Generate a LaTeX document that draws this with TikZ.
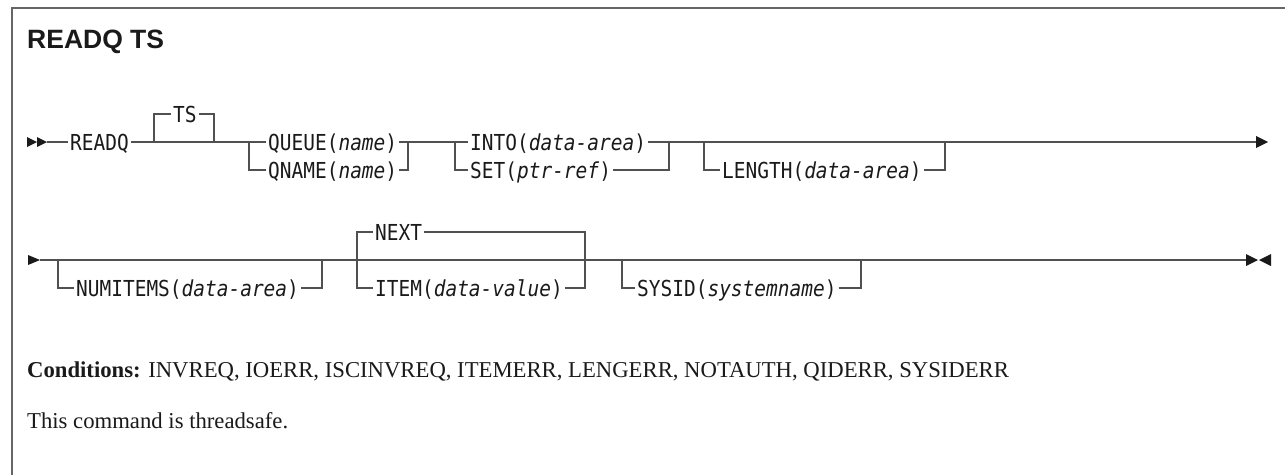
\documentclass[tikz,border=0pt]{standalone}
\usepackage{fontspec}
\newfontfamily\synfont[FakeStretch=0.885]{DejaVu Sans Mono}
\newfontfamily\titlefont{Liberation Sans}
\newfontfamily\bodyfont{Liberation Serif}
\definecolor{railc}{HTML}{505050}
\definecolor{inkc}{HTML}{1A1A1A}
\begin{document}
\begin{tikzpicture}[x=1pt,y={(0pt,-1pt)},
  rail/.style={draw=railc,line width=1.6pt},
  syn/.style={font=\synfont\fontsize{22}{26}\selectfont, inner xsep=2pt, inner ysep=0pt,
              text height=16pt, text depth=0pt, anchor=west, text=inkc},
  tipm/.style={fill=inkc, draw=none},
  body/.style={anchor=base west, inner sep=0pt, text=inkc, font=\bodyfont\fontsize{22.7}{27}\selectfont}]
\useasboundingbox (0,0) rectangle (1285,475);
\fill[white] (0,0) rectangle (1285,475);
% frame
\draw[draw=black!60, line width=1.5pt] (12,475) -- (12,8) -- (1285,8);
% title
\node[anchor=base west, inner sep=0pt, text=inkc, font=\titlefont\bfseries\fontsize{26.5}{30}\selectfont] (title) at (27,48) {READQ TS};

% ---------- row 1 ----------
\node[syn] (readq) at (68,142) {READQ};
\node[syn] (ts) at (171,114) {TS};
\node[syn] (queue) at (266,142) {QUEUE(\textit{name})};
\node[syn] (qname) at (266,170) {QNAME(\textit{name})};
\node[syn] (into) at (468,142) {INTO(\textit{data-area})};
\node[syn] (set) at (468,170) {SET(\textit{ptr-ref})};
\node[syn] (length) at (720,170) {LENGTH(\textit{data-area})};

\coordinate (r1s) at (47,142);
\coordinate (ts1) at (154,142); \coordinate (ts2) at (214,142);
\coordinate (q1) at (249,142);  \coordinate (q2) at (408,142);
\coordinate (i1) at (455,142);  \coordinate (i2) at (669,142);
\coordinate (l1) at (704,142);  \coordinate (l2) at (945,142);
\coordinate (r1e) at (1257,142);

\fill[tipm] (27,137) -- (37,142) -- (27,147) -- cycle;
\fill[tipm] (37,137) -- (47,142) -- (37,147) -- cycle;
\draw[rail] (r1s) -- (readq.west);
\draw[rail] (readq.east) -- (queue.west);
\draw[rail] (queue.east) -- (into.west);
\draw[rail] (into.east) -- (r1e);
\fill[tipm] (1256,136) -- (1268,142) -- (1256,148) -- cycle;
\draw[rail] (ts1) |- (ts.west);
\draw[rail] (ts.east) -| (ts2);
\draw[rail] (q1) |- (qname.west);
\draw[rail] (qname.east) -| (q2);
\draw[rail] (i1) |- (set.west);
\draw[rail] (set.east) -| (i2);
\draw[rail] (l1) |- (length.west);
\draw[rail] (length.east) -| (l2);

% ---------- row 2 ----------
\node[syn] (numitems) at (74,288) {NUMITEMS(\textit{data-area})};
\node[syn] (next) at (373,232) {NEXT};
\node[syn] (item) at (373,288) {ITEM(\textit{data-value})};
\node[syn] (sysid) at (635,288) {SYSID(\textit{systemname})};

\coordinate (r2s) at (40,260); \coordinate (r2e) at (1246,260);
\coordinate (n1) at (58,260);  \coordinate (n2) at (322,260);
\coordinate (x1) at (357,260); \coordinate (x2) at (585,260);
\coordinate (s1) at (622,260); \coordinate (s2) at (861,260);

\fill[tipm] (28,255) -- (40,260) -- (28,265) -- cycle;
\draw[rail] (r2s) -- (r2e);
\draw[rail] (n1) |- (numitems.west);
\draw[rail] (numitems.east) -| (n2);
\draw[rail] (x1) |- (next.west);
\draw[rail] (next.east) -| (x2);
\draw[rail] (x1) |- (item.west);
\draw[rail] (item.east) -| (x2);
\draw[rail] (s1) |- (sysid.west);
\draw[rail] (sysid.east) -| (s2);
\fill[tipm] (1246,254) -- (1258,260) -- (1246,266) -- cycle;
\fill[tipm] (1271,254) -- (1259,260) -- (1271,266) -- cycle;

% ---------- text ----------
\node[body] (cond) at (27,377) {\textbf{Conditions:} INVREQ, IOERR, ISCINVREQ, ITEMERR, LENGERR, NOTAUTH, QIDERR, SYSIDERR};
\node[body] (thread) at (27,428) {This command is threadsafe.};
\end{tikzpicture}
\end{document}
